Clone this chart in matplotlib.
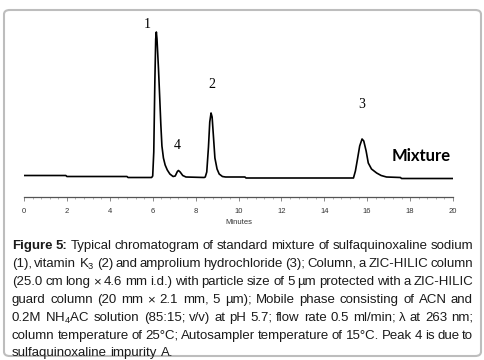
import matplotlib
matplotlib.use("Agg")
import matplotlib.pyplot as plt
from matplotlib.patches import FancyBboxPatch
from matplotlib.ticker import MultipleLocator

plt.rcParams['font.family'] = ['Liberation Sans', 'DejaVu Sans']
plt.rcParams['mathtext.fontset'] = 'custom'
plt.rcParams['mathtext.rm'] = 'Liberation Sans'
plt.rcParams['mathtext.it'] = 'Liberation Sans:italic'
plt.rcParams['mathtext.bf'] = 'Liberation Sans:bold'

# trace (minutes, detector response)
time_min = [0, 1.95, 2.0, 4.8, 4.85, 5.95,
            6.0, 6.05, 6.1, 6.14, 6.17, 6.2, 6.27, 6.33, 6.38, 6.43, 6.5, 6.58, 6.68, 6.8, 6.95,
            7.05, 7.15, 7.2, 7.28, 7.4, 7.55, 8.4,
            8.45, 8.52, 8.6, 8.66, 8.72, 8.77, 8.84, 8.9, 9.0, 9.1, 9.25, 9.4, 10.3, 10.35,
            15.3, 15.36, 15.45, 15.54, 15.65, 15.76, 15.84, 15.95, 16.05, 16.2, 16.44, 16.65, 16.9,
            17.55, 17.6, 20]
signal = [1.5, 1.5, 0.5, 0.5, -0.5, -0.5,
          1, 25, 95, 138, 145, 138, 108, 78, 52, 31, 19, 12, 7, 3, 0.5,
          1, 5.5, 6.5, 5, 1.5, 0, -0.5,
          0, 5, 30, 55, 64, 60, 38, 19, 8, 3, 0.5, 0, 0, -1,
          -1, -1, 6, 17, 31, 38, 36, 26, 14, 8, 4, 1.5, 0,
          -0.5, -1.5, -1.5]

peak_labels = ["1", "4", "2", "3"]
label_x = [5.75, 7.15, 8.75, 15.75]
label_y = [153, 32, 93, 72]

xticks = list(range(0, 21, 2))

caption = [
    "Figure 5: Typical chromatogram of standard mixture of sulfaquinoxaline sodium",
    "(1), vitamin K$_{3}$ (2) and amprolium hydrochloride (3); Column, a ZIC-HILIC column",
    "(25.0 cm long × 4.6 mm i.d.) with particle size of 5 µm protected with a ZIC-HILIC",
    "guard column (20 mm × 2.1 mm, 5 µm); Mobile phase consisting of ACN and",
    "0.2M NH$_{4}$AC solution (85:15; v/v) at pH 5.7; flow rate 0.5 ml/min; λ at 263 nm;",
    "column temperature of 25°C; Autosampler temperature of 15°C. Peak 4 is due to",
    "sulfaquinoxaline impurity A.",
]

W, H = 485, 360
fig = plt.figure(figsize=(4.85, 3.6), dpi=100)

# rounded frame
frame = FancyBboxPatch((4 / W, 4 / H), 477 / W, 346 / H,
                       boxstyle="round,pad=0,rounding_size=0.012",
                       transform=fig.transFigure, facecolor="none",
                       edgecolor="#bdbdbd", linewidth=1.5, zorder=-1)
fig.patches.append(frame)

ax = fig.add_axes([24 / W, 1 - 197 / H, 429 / W, 172 / H])
ax.set_facecolor("none")
ax.plot(time_min, signal, color="black", linewidth=1.2, solid_joinstyle="round")
ax.set_xlim(0, 20)
ax.set_ylim(-20, 152)
for s in ["left", "right", "top"]:
    ax.spines[s].set_visible(False)
ax.spines["bottom"].set_color("#555555")
ax.spines["bottom"].set_linewidth(0.9)
ax.set_yticks([])
ax.set_xticks(xticks)
ax.set_xticklabels([str(t) for t in xticks], fontsize=5.5, color="#333333",
                   family=["Liberation Sans Narrow", "Liberation Sans"])
ax.xaxis.set_minor_locator(MultipleLocator(0.4))
ax.tick_params(axis="x", which="major", length=3, width=0.6, color="#777777", pad=5)
ax.tick_params(axis="x", which="minor", length=1.5, width=0.5, color="#999999")
ax.set_xlabel("Minutes", fontsize=5.5, color="#333333", labelpad=3,
              family=["Liberation Sans Narrow", "Liberation Sans"])

for lab, x, y in zip(peak_labels, label_x, label_y):
    ax.text(x, y, lab, fontsize=10, family="Liberation Serif", ha="center", va="center")
ax.text(19.9, 21, "Mixture", fontsize=12, fontweight="bold", family="Lato",
        ha="right", va="center")

# justified caption
fs = 9.55
renderer = fig.canvas.get_renderer()
x0, x1 = 12 / W, 473 / W
line_y = [246, 264, 282, 300, 318, 336, 353]
tmp = fig.text(0, 0, "a a", fontsize=fs)
w_aa = tmp.get_window_extent(renderer).width
tmp.set_text("aa")
space = (w_aa - tmp.get_window_extent(renderer).width) / W
tmp.remove()
for i, line in enumerate(caption):
    words = line.split(" ")
    texts = []
    for j, w in enumerate(words):
        bold = (i == 0 and j < 2)
        t = fig.text(0, 1 - line_y[i] / H, w, fontsize=fs, color="#1a1a1a",
                     fontweight="bold" if bold else "normal", va="center", ha="left")
        texts.append(t)
    widths = [t.get_window_extent(renderer).width / W for t in texts]
    if i < len(caption) - 1:
        gap = (x1 - x0 - sum(widths)) / (len(words) - 1)
    else:
        gap = space
    x = x0
    for t, w in zip(texts, widths):
        t.set_x(x)
        x += w + gap

fig.savefig("out.png", dpi=100)
